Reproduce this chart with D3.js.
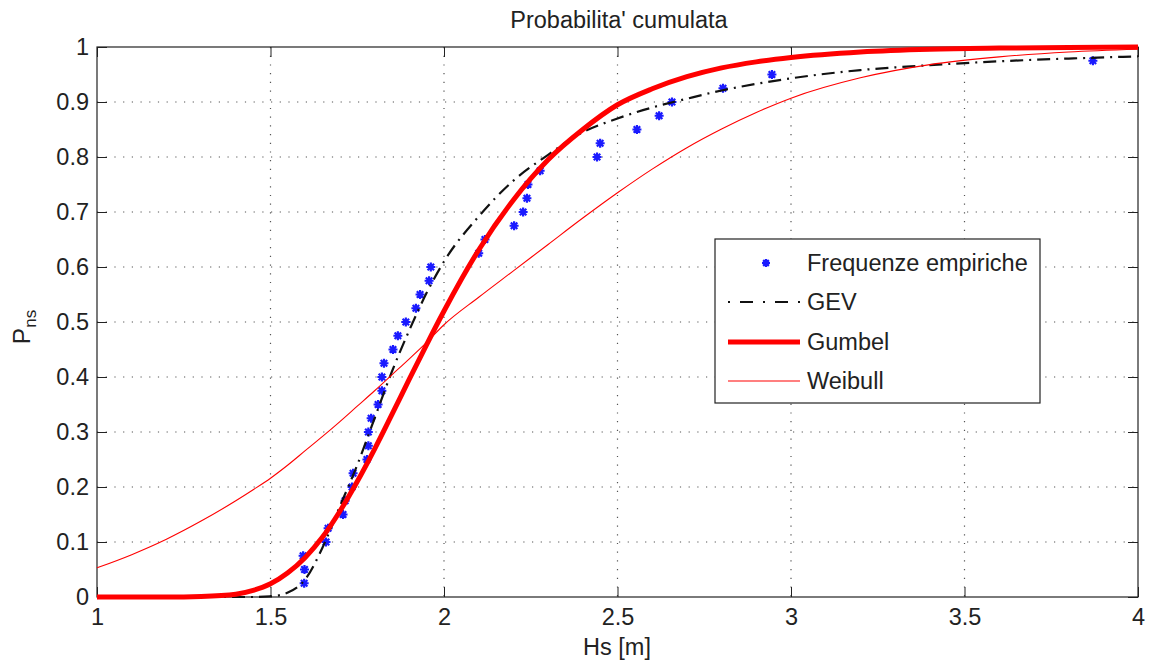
<!DOCTYPE html>
<html>
<head>
<meta charset="utf-8">
<script src="https://cdn.jsdelivr.net/npm/d3@7"></script>
<style>
  body { margin: 0; background: #fff; }
  svg { display: block; font-family: "Liberation Sans", Arial, sans-serif; }
</style>
</head>
<body>
<svg id="chart"></svg>
<script>
// tick values
const xTicks = [1, 1.5, 2, 2.5, 3, 3.5, 4];
const yTicks = [0, 0.1, 0.2, 0.3, 0.4, 0.5, 0.6, 0.7, 0.8, 0.9, 1];

// empirical frequencies (Hs, P)
const empHs = [1.597, 1.598, 1.594, 1.66, 1.666, 1.709, 1.715, 1.735, 1.738, 1.778,
  1.782, 1.782, 1.79, 1.81, 1.821, 1.821, 1.827, 1.853, 1.867, 1.89,
  1.919, 1.931, 1.957, 1.962, 2.1, 2.118, 2.202, 2.228, 2.239, 2.242,
  2.277, 2.441, 2.45, 2.556, 2.62, 2.657, 2.804, 2.945, 3.87];
const empP = [0.025, 0.05, 0.075, 0.1, 0.125, 0.15, 0.175, 0.2, 0.225, 0.25,
  0.275, 0.3, 0.325, 0.35, 0.375, 0.4, 0.425, 0.45, 0.475, 0.5,
  0.525, 0.55, 0.575, 0.6, 0.625, 0.65, 0.675, 0.7, 0.725, 0.75,
  0.775, 0.8, 0.825, 0.85, 0.875, 0.9, 0.925, 0.95, 0.975];

// fitted curves
const curveHs = [1.0, 1.1, 1.2, 1.3, 1.4, 1.45, 1.5, 1.55, 1.6, 1.65, 1.7, 1.75, 1.8, 1.85, 1.9, 1.95,
  2.0, 2.1, 2.2, 2.3, 2.4, 2.5, 2.6, 2.7, 2.8, 2.9, 3.0, 3.2, 3.4, 3.6, 3.8, 4.0];
const gevP = [0, 0, 0, 0, 0, 0, 0.001, 0.008, 0.032, 0.09, 0.165, 0.24, 0.325, 0.41, 0.485, 0.553,
  0.61, 0.692, 0.757, 0.804, 0.845, 0.87, 0.89, 0.906, 0.921, 0.933, 0.943, 0.958, 0.967, 0.974, 0.979, 0.983];
const gumbelP = [0, 0, 0, 0.001, 0.005, 0.012, 0.024, 0.044, 0.072, 0.109, 0.156, 0.21, 0.269, 0.332, 0.396, 0.459,
  0.52, 0.631, 0.722, 0.795, 0.85, 0.895, 0.924, 0.946, 0.962, 0.973, 0.981, 0.991, 0.996, 0.998, 0.999, 1.0];
const weibullP = [0.053, 0.077, 0.105, 0.138, 0.175, 0.195, 0.216, 0.24, 0.266, 0.292, 0.319, 0.347, 0.375, 0.404, 0.433, 0.463,
  0.495, 0.545, 0.593, 0.641, 0.689, 0.735, 0.778, 0.817, 0.851, 0.881, 0.907, 0.944, 0.968, 0.982, 0.991, 0.996];

const legendNames = ["Frequenze empiriche", "GEV", "Gumbel", "Weibull"];

const width = 1152, height = 664;
const pLeft = 97, pRight = 1138, pTop = 47, pBottom = 597;
const fontSize = 23.5;

const svg = d3.select("#chart").attr("width", width).attr("height", height);
svg.append("rect").attr("width", width).attr("height", height).attr("fill", "#fff");

const x = d3.scaleLinear().domain([1, 4]).range([pLeft, pRight]);
const y = d3.scaleLinear().domain([0, 1]).range([pBottom, pTop]);

// grid (dotted)
const grid = svg.append("g").attr("stroke", "#555").attr("stroke-width", 1.2).attr("stroke-dasharray", "1.2,7.5");
grid.selectAll(".gx").data(xTicks.slice(1, -1)).enter().append("line")
  .attr("x1", d => x(d)).attr("x2", d => x(d)).attr("y1", pTop).attr("y2", pBottom);
grid.selectAll(".gy").data(yTicks.slice(1, -1)).enter().append("line")
  .attr("x1", pLeft).attr("x2", pRight).attr("y1", d => y(d)).attr("y2", d => y(d));

// axes, ticks pointing inward on all four sides
const fmt = d => String(d);
svg.append("g").attr("transform", `translate(0,${pBottom})`)
  .call(d3.axisBottom(x).tickValues(xTicks).tickFormat(fmt).tickSizeInner(-10).tickSizeOuter(0).tickPadding(11));
svg.append("g").attr("transform", `translate(${pLeft},0)`)
  .call(d3.axisLeft(y).tickValues(yTicks).tickFormat(fmt).tickSizeInner(-10).tickSizeOuter(0).tickPadding(8));
svg.append("g").attr("transform", `translate(0,${pTop})`)
  .call(d3.axisTop(x).tickValues(xTicks).tickFormat("").tickSizeInner(-10).tickSizeOuter(0));
svg.append("g").attr("transform", `translate(${pRight},0)`)
  .call(d3.axisRight(y).tickValues(yTicks).tickFormat("").tickSizeInner(-10).tickSizeOuter(0));
svg.selectAll(".domain").remove();
svg.selectAll(".tick line").attr("stroke", "#222");
svg.selectAll(".tick text").attr("font-size", fontSize).attr("fill", "#222").attr("font-family", null);

svg.append("rect").attr("x", pLeft).attr("y", pTop).attr("width", pRight - pLeft).attr("height", pBottom - pTop)
  .attr("fill", "none").attr("stroke", "#222").attr("stroke-width", 1.2);

// curves
const line = d3.line().x(d => x(d[0])).y(d => y(d[1])).curve(d3.curveMonotoneX);
const star = r => `M${-r},0H${r}M0,${-r}V${r}M${-r * 0.72},${-r * 0.72}L${r * 0.72},${r * 0.72}M${-r * 0.72},${r * 0.72}L${r * 0.72},${-r * 0.72}`;

svg.append("g").selectAll("path").data(empHs.map((h, i) => [h, empP[i]])).enter().append("path")
  .attr("d", star(4.5)).attr("transform", d => `translate(${x(d[0])},${y(d[1])})`)
  .attr("stroke", "#1a1aff").attr("stroke-width", 2.2).attr("fill", "none");

svg.append("path").datum(curveHs.map((h, i) => [h, gevP[i]]))
  .attr("d", line).attr("fill", "none").attr("stroke", "#111").attr("stroke-width", 2.2).attr("stroke-dasharray", "13,6,2,6");
svg.append("path").datum(curveHs.map((h, i) => [h, gumbelP[i]]))
  .attr("d", line).attr("fill", "none").attr("stroke", "#ff0000").attr("stroke-width", 5);
svg.append("path").datum(curveHs.map((h, i) => [h, weibullP[i]]))
  .attr("d", line).attr("fill", "none").attr("stroke", "#ff0000").attr("stroke-width", 1.1);

// labels
svg.append("text").text("Probabilita' cumulata").attr("x", 619).attr("y", 28)
  .attr("text-anchor", "middle").attr("font-size", fontSize).attr("fill", "#222");
svg.append("text").text("Hs [m]").attr("x", 617).attr("y", 655)
  .attr("text-anchor", "middle").attr("font-size", fontSize).attr("fill", "#222");
const yl = svg.append("text").attr("transform", "translate(30,327) rotate(-90)")
  .attr("text-anchor", "middle").attr("font-size", fontSize + 1).attr("fill", "#222");
yl.append("tspan").text("P");
yl.append("tspan").text("ns").attr("font-size", 17).attr("dy", 6);

// legend
const legend = svg.append("g").attr("id", "legend");
legend.append("rect").attr("x", 715).attr("y", 239).attr("width", 325).attr("height", 164)
  .attr("fill", "#fff").attr("stroke", "#222").attr("stroke-width", 1.2);
const rowY = [263, 302, 342, 381];
legend.selectAll("text").data(legendNames).enter().append("text")
  .text(d => d).attr("x", 807).attr("y", (d, i) => rowY[i]).attr("dy", "0.36em")
  .attr("font-size", fontSize).attr("fill", "#222");
legend.append("path").attr("d", star(4)).attr("transform", `translate(766,${rowY[0]})`)
  .attr("stroke", "#1a1aff").attr("stroke-width", 2.2).attr("fill", "none");
legend.append("line").attr("x1", 728).attr("x2", 800).attr("y1", rowY[1]).attr("y2", rowY[1])
  .attr("stroke", "#111").attr("stroke-width", 2.2).attr("stroke-dasharray", "2,10,13,10,2,10,13,10,2,100");
legend.append("line").attr("x1", 728).attr("x2", 800).attr("y1", rowY[2]).attr("y2", rowY[2])
  .attr("stroke", "#ff0000").attr("stroke-width", 5);
legend.append("line").attr("x1", 728).attr("x2", 800).attr("y1", rowY[3]).attr("y2", rowY[3])
  .attr("stroke", "#ff0000").attr("stroke-width", 1.1);
</script>
</body>
</html>
